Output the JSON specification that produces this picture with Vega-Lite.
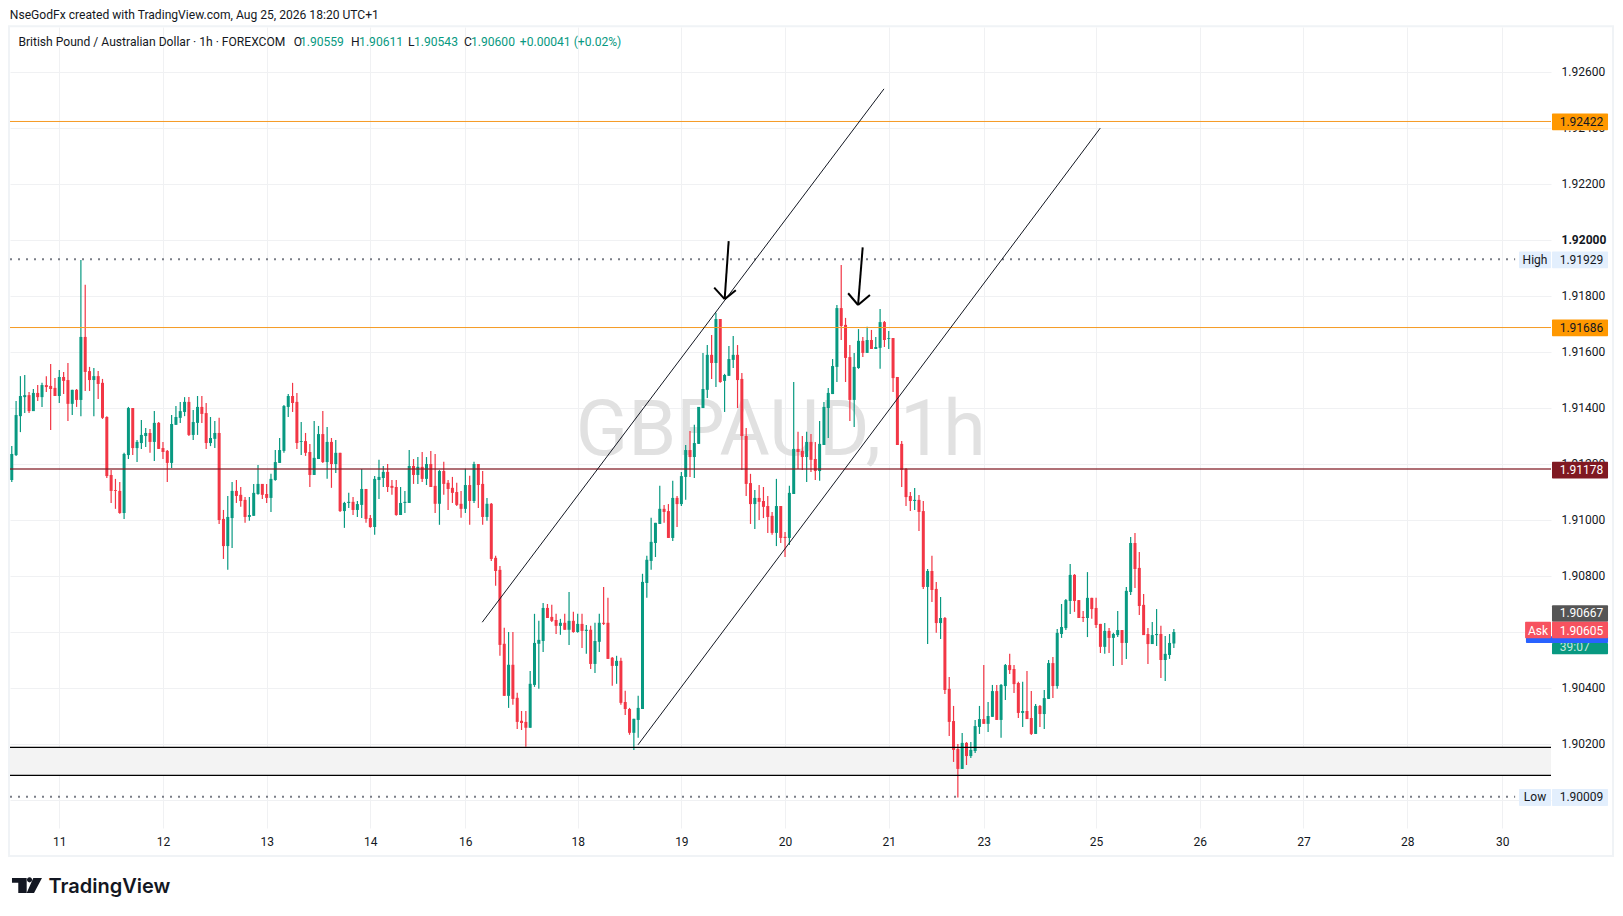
{
  "$schema": "https://vega.github.io/schema/vega-lite/v6.json",
  "width": 1541,
  "height": 801,
  "autosize": {"type": "none"},
  "padding": {"left": 10, "top": 27, "right": 72, "bottom": 88},
  "background": "#ffffff",
  "view": {"stroke": null},
  "config": {"text": {"font": "Roboto"}},
  "datasets": {
    "candles": [
      {"bar":0,"o":1.91143,"h":1.91264,"l":1.91136,"c":1.91236},
      {"bar":1,"o":1.91232,"h":1.91425,"l":1.91229,"c":1.91375},
      {"bar":2,"o":1.91371,"h":1.91514,"l":1.91314,"c":1.91443},
      {"bar":3,"o":1.91439,"h":1.91518,"l":1.91382,"c":1.91446},
      {"bar":4,"o":1.91446,"h":1.91457,"l":1.91382,"c":1.91389},
      {"bar":5,"o":1.91389,"h":1.91468,"l":1.91389,"c":1.91454},
      {"bar":6,"o":1.91454,"h":1.91482,"l":1.91425,"c":1.91439},
      {"bar":7,"o":1.91439,"h":1.9149,"l":1.91404,"c":1.91482},
      {"bar":8,"o":1.91482,"h":1.91514,"l":1.91457,"c":1.91475},
      {"bar":9,"o":1.91479,"h":1.91557,"l":1.91322,"c":1.91468},
      {"bar":10,"o":1.91472,"h":1.91507,"l":1.91443,"c":1.91443},
      {"bar":11,"o":1.91443,"h":1.91536,"l":1.91418,"c":1.91511},
      {"bar":12,"o":1.91511,"h":1.91529,"l":1.9145,"c":1.91497},
      {"bar":13,"o":1.915,"h":1.91561,"l":1.91354,"c":1.91415},
      {"bar":14,"o":1.91415,"h":1.91465,"l":1.91375,"c":1.91465},
      {"bar":15,"o":1.91465,"h":1.91468,"l":1.91404,"c":1.91429},
      {"bar":16,"o":1.91429,"h":1.91929,"l":1.91371,"c":1.91654},
      {"bar":17,"o":1.91654,"h":1.9184,"l":1.91461,"c":1.91529},
      {"bar":18,"o":1.91532,"h":1.91547,"l":1.91461,"c":1.915},
      {"bar":19,"o":1.915,"h":1.91543,"l":1.91371,"c":1.91514},
      {"bar":20,"o":1.91514,"h":1.91532,"l":1.91432,"c":1.91486},
      {"bar":21,"o":1.9149,"h":1.91504,"l":1.91361,"c":1.91365},
      {"bar":22,"o":1.91368,"h":1.91371,"l":1.9115,"c":1.91157},
      {"bar":23,"o":1.91161,"h":1.91179,"l":1.91061,"c":1.91104},
      {"bar":24,"o":1.91107,"h":1.91147,"l":1.9104,"c":1.91104},
      {"bar":25,"o":1.91104,"h":1.91136,"l":1.91022,"c":1.91025},
      {"bar":26,"o":1.91025,"h":1.9124,"l":1.91004,"c":1.91236},
      {"bar":27,"o":1.91232,"h":1.91404,"l":1.91218,"c":1.914},
      {"bar":28,"o":1.914,"h":1.914,"l":1.91232,"c":1.91257},
      {"bar":29,"o":1.91257,"h":1.91286,"l":1.91207,"c":1.91279},
      {"bar":30,"o":1.91275,"h":1.91357,"l":1.91254,"c":1.91304},
      {"bar":31,"o":1.913,"h":1.91329,"l":1.91261,"c":1.91311},
      {"bar":32,"o":1.91311,"h":1.91325,"l":1.9124,"c":1.91279},
      {"bar":33,"o":1.91279,"h":1.91389,"l":1.91211,"c":1.91347},
      {"bar":34,"o":1.91347,"h":1.9135,"l":1.91254,"c":1.91254},
      {"bar":35,"o":1.91257,"h":1.91279,"l":1.91218,"c":1.91243},
      {"bar":36,"o":1.91247,"h":1.9125,"l":1.91136,"c":1.91204},
      {"bar":37,"o":1.91204,"h":1.91375,"l":1.91186,"c":1.91343},
      {"bar":38,"o":1.9134,"h":1.91407,"l":1.9134,"c":1.91368},
      {"bar":39,"o":1.91365,"h":1.91422,"l":1.91347,"c":1.91389},
      {"bar":40,"o":1.91386,"h":1.91439,"l":1.91371,"c":1.91422},
      {"bar":41,"o":1.91422,"h":1.91439,"l":1.913,"c":1.91304},
      {"bar":42,"o":1.91304,"h":1.91393,"l":1.91286,"c":1.9135},
      {"bar":43,"o":1.91347,"h":1.91443,"l":1.91304,"c":1.91404},
      {"bar":44,"o":1.91404,"h":1.91443,"l":1.91347,"c":1.91379},
      {"bar":45,"o":1.91382,"h":1.91418,"l":1.91254,"c":1.91275},
      {"bar":46,"o":1.91275,"h":1.91368,"l":1.91264,"c":1.91293},
      {"bar":47,"o":1.9129,"h":1.91354,"l":1.91257,"c":1.91311},
      {"bar":48,"o":1.91311,"h":1.91365,"l":1.90986,"c":1.91},
      {"bar":49,"o":1.91004,"h":1.91036,"l":1.90861,"c":1.90907},
      {"bar":50,"o":1.90907,"h":1.91086,"l":1.90822,"c":1.91011},
      {"bar":51,"o":1.91007,"h":1.91136,"l":1.909,"c":1.91104},
      {"bar":52,"o":1.91104,"h":1.91143,"l":1.91061,"c":1.91086},
      {"bar":53,"o":1.9109,"h":1.91118,"l":1.91047,"c":1.91068},
      {"bar":54,"o":1.91072,"h":1.91082,"l":1.9099,"c":1.91011},
      {"bar":55,"o":1.91011,"h":1.91082,"l":1.90997,"c":1.91018},
      {"bar":56,"o":1.91015,"h":1.91129,"l":1.91015,"c":1.91097},
      {"bar":57,"o":1.91093,"h":1.91197,"l":1.9109,"c":1.91129},
      {"bar":58,"o":1.91129,"h":1.91129,"l":1.91075,"c":1.9109},
      {"bar":59,"o":1.91093,"h":1.91129,"l":1.91061,"c":1.91079},
      {"bar":60,"o":1.91079,"h":1.91165,"l":1.91029,"c":1.91147},
      {"bar":61,"o":1.91143,"h":1.9125,"l":1.9114,"c":1.91207},
      {"bar":62,"o":1.91204,"h":1.91293,"l":1.91204,"c":1.9125},
      {"bar":63,"o":1.91247,"h":1.91411,"l":1.9124,"c":1.91407},
      {"bar":64,"o":1.91404,"h":1.9145,"l":1.91368,"c":1.91443},
      {"bar":65,"o":1.91443,"h":1.9149,"l":1.91386,"c":1.91418},
      {"bar":66,"o":1.91422,"h":1.91454,"l":1.91254,"c":1.91275},
      {"bar":67,"o":1.91279,"h":1.9135,"l":1.91232,"c":1.91282},
      {"bar":68,"o":1.91282,"h":1.91311,"l":1.91229,"c":1.9124},
      {"bar":69,"o":1.91243,"h":1.91272,"l":1.91118,"c":1.91161},
      {"bar":70,"o":1.91161,"h":1.91354,"l":1.91161,"c":1.91222},
      {"bar":71,"o":1.91218,"h":1.91336,"l":1.91218,"c":1.91307},
      {"bar":72,"o":1.91307,"h":1.91389,"l":1.91204,"c":1.91207},
      {"bar":73,"o":1.91207,"h":1.91332,"l":1.91147,"c":1.91279},
      {"bar":74,"o":1.91279,"h":1.91293,"l":1.91115,"c":1.912},
      {"bar":75,"o":1.912,"h":1.91286,"l":1.91168,"c":1.9124},
      {"bar":76,"o":1.9124,"h":1.9124,"l":1.91029,"c":1.91032},
      {"bar":77,"o":1.91032,"h":1.91065,"l":1.90972,"c":1.91061},
      {"bar":78,"o":1.91061,"h":1.91097,"l":1.91043,"c":1.91065},
      {"bar":79,"o":1.91065,"h":1.91082,"l":1.91018,"c":1.91036},
      {"bar":80,"o":1.91036,"h":1.91068,"l":1.91011,"c":1.91057},
      {"bar":81,"o":1.91054,"h":1.91182,"l":1.91007,"c":1.91111},
      {"bar":82,"o":1.91111,"h":1.91111,"l":1.9099,"c":1.91004},
      {"bar":83,"o":1.91007,"h":1.91018,"l":1.90972,"c":1.90975},
      {"bar":84,"o":1.90975,"h":1.91157,"l":1.90947,"c":1.91147},
      {"bar":85,"o":1.91143,"h":1.91215,"l":1.91075,"c":1.91154},
      {"bar":86,"o":1.9115,"h":1.91193,"l":1.91118,"c":1.91172},
      {"bar":87,"o":1.91172,"h":1.912,"l":1.911,"c":1.91118},
      {"bar":88,"o":1.91122,"h":1.91143,"l":1.9109,"c":1.91115},
      {"bar":89,"o":1.91118,"h":1.91143,"l":1.91015,"c":1.91018},
      {"bar":90,"o":1.91018,"h":1.91118,"l":1.91018,"c":1.91061},
      {"bar":91,"o":1.91061,"h":1.91104,"l":1.91025,"c":1.91065},
      {"bar":92,"o":1.91061,"h":1.9125,"l":1.91061,"c":1.91193},
      {"bar":93,"o":1.91193,"h":1.91218,"l":1.91129,"c":1.91161},
      {"bar":94,"o":1.91161,"h":1.91225,"l":1.91129,"c":1.9119},
      {"bar":95,"o":1.9119,"h":1.91243,"l":1.91136,"c":1.91147},
      {"bar":96,"o":1.91147,"h":1.91225,"l":1.91125,"c":1.912},
      {"bar":97,"o":1.912,"h":1.91247,"l":1.91118,"c":1.91118},
      {"bar":98,"o":1.91122,"h":1.91236,"l":1.91025,"c":1.91058},
      {"bar":99,"o":1.91058,"h":1.91179,"l":1.90983,"c":1.91175},
      {"bar":100,"o":1.91175,"h":1.91208,"l":1.9109,"c":1.91129},
      {"bar":101,"o":1.91133,"h":1.91143,"l":1.91036,"c":1.91111},
      {"bar":102,"o":1.91115,"h":1.91154,"l":1.91061,"c":1.91097},
      {"bar":103,"o":1.911,"h":1.91133,"l":1.9105,"c":1.91054},
      {"bar":104,"o":1.91058,"h":1.91104,"l":1.91008,"c":1.9104},
      {"bar":105,"o":1.9104,"h":1.91183,"l":1.91025,"c":1.91125},
      {"bar":106,"o":1.91125,"h":1.91158,"l":1.90983,"c":1.91068},
      {"bar":107,"o":1.91068,"h":1.91208,"l":1.91061,"c":1.912},
      {"bar":108,"o":1.912,"h":1.912,"l":1.91043,"c":1.91125},
      {"bar":109,"o":1.91129,"h":1.91175,"l":1.90983,"c":1.91011},
      {"bar":110,"o":1.91011,"h":1.91079,"l":1.90997,"c":1.91058},
      {"bar":111,"o":1.91058,"h":1.91061,"l":1.90854,"c":1.90861},
      {"bar":112,"o":1.90865,"h":1.90872,"l":1.90765,"c":1.90818},
      {"bar":113,"o":1.90822,"h":1.90836,"l":1.90515,"c":1.90554},
      {"bar":114,"o":1.90558,"h":1.90615,"l":1.90372,"c":1.90372},
      {"bar":115,"o":1.90372,"h":1.906,"l":1.90329,"c":1.90483},
      {"bar":116,"o":1.90483,"h":1.906,"l":1.9034,"c":1.90361},
      {"bar":117,"o":1.90365,"h":1.90383,"l":1.90254,"c":1.90279},
      {"bar":118,"o":1.90283,"h":1.90318,"l":1.9025,"c":1.90275},
      {"bar":119,"o":1.90279,"h":1.90318,"l":1.9019,"c":1.90258},
      {"bar":120,"o":1.90258,"h":1.90461,"l":1.90258,"c":1.90415},
      {"bar":121,"o":1.90411,"h":1.90665,"l":1.90404,"c":1.90561},
      {"bar":122,"o":1.90558,"h":1.9064,"l":1.90397,"c":1.90572},
      {"bar":123,"o":1.90568,"h":1.90704,"l":1.90529,"c":1.90686},
      {"bar":124,"o":1.90686,"h":1.907,"l":1.9065,"c":1.9065},
      {"bar":125,"o":1.90654,"h":1.90697,"l":1.90636,"c":1.9064},
      {"bar":126,"o":1.90643,"h":1.90665,"l":1.90593,"c":1.90622},
      {"bar":127,"o":1.90622,"h":1.90647,"l":1.9059,"c":1.90633},
      {"bar":128,"o":1.90633,"h":1.90665,"l":1.90608,"c":1.90608},
      {"bar":129,"o":1.90608,"h":1.90743,"l":1.90554,"c":1.9064},
      {"bar":130,"o":1.9064,"h":1.90672,"l":1.90597,"c":1.906},
      {"bar":131,"o":1.906,"h":1.90665,"l":1.90597,"c":1.90629},
      {"bar":132,"o":1.90629,"h":1.90665,"l":1.90543,"c":1.90604},
      {"bar":133,"o":1.90604,"h":1.90625,"l":1.90522,"c":1.90608},
      {"bar":134,"o":1.90608,"h":1.90622,"l":1.90468,"c":1.90486},
      {"bar":135,"o":1.90486,"h":1.90633,"l":1.90454,"c":1.90568},
      {"bar":136,"o":1.90565,"h":1.90665,"l":1.90529,"c":1.90633},
      {"bar":137,"o":1.90633,"h":1.90761,"l":1.90625,"c":1.90629},
      {"bar":138,"o":1.90633,"h":1.90722,"l":1.90504,"c":1.90504},
      {"bar":139,"o":1.90508,"h":1.90511,"l":1.90408,"c":1.90479},
      {"bar":140,"o":1.90479,"h":1.90515,"l":1.90415,"c":1.90497},
      {"bar":141,"o":1.90497,"h":1.90508,"l":1.9034,"c":1.90347},
      {"bar":142,"o":1.9035,"h":1.9039,"l":1.90304,"c":1.90325},
      {"bar":143,"o":1.90325,"h":1.90329,"l":1.90233,"c":1.9024},
      {"bar":144,"o":1.9024,"h":1.9029,"l":1.90179,"c":1.9029},
      {"bar":145,"o":1.90286,"h":1.90372,"l":1.90222,"c":1.90329},
      {"bar":146,"o":1.90325,"h":1.90808,"l":1.90325,"c":1.90779},
      {"bar":147,"o":1.90775,"h":1.90872,"l":1.90722,"c":1.90858},
      {"bar":148,"o":1.90854,"h":1.91008,"l":1.90822,"c":1.90922},
      {"bar":149,"o":1.90918,"h":1.9099,"l":1.90868,"c":1.9099},
      {"bar":150,"o":1.90986,"h":1.91122,"l":1.90986,"c":1.9104},
      {"bar":151,"o":1.9104,"h":1.91054,"l":1.9099,"c":1.91029},
      {"bar":152,"o":1.91032,"h":1.91057,"l":1.90936,"c":1.90936},
      {"bar":153,"o":1.90936,"h":1.9114,"l":1.90925,"c":1.91079},
      {"bar":154,"o":1.91079,"h":1.91086,"l":1.90975,"c":1.91057},
      {"bar":155,"o":1.91057,"h":1.91172,"l":1.9105,"c":1.91157},
      {"bar":156,"o":1.91154,"h":1.91268,"l":1.91072,"c":1.9125},
      {"bar":157,"o":1.9125,"h":1.91318,"l":1.91154,"c":1.91225},
      {"bar":158,"o":1.91225,"h":1.9134,"l":1.9115,"c":1.91275},
      {"bar":159,"o":1.91272,"h":1.91404,"l":1.91272,"c":1.91404},
      {"bar":160,"o":1.914,"h":1.91597,"l":1.914,"c":1.91468},
      {"bar":161,"o":1.91465,"h":1.91625,"l":1.91436,"c":1.9159},
      {"bar":162,"o":1.9159,"h":1.91661,"l":1.91504,"c":1.91561},
      {"bar":163,"o":1.91561,"h":1.9174,"l":1.91475,"c":1.91718},
      {"bar":164,"o":1.91718,"h":1.91718,"l":1.9149,"c":1.91493},
      {"bar":165,"o":1.91497,"h":1.91522,"l":1.91386,"c":1.91518},
      {"bar":166,"o":1.91515,"h":1.91622,"l":1.91515,"c":1.91575},
      {"bar":167,"o":1.91572,"h":1.91657,"l":1.91543,"c":1.9159},
      {"bar":168,"o":1.9159,"h":1.91625,"l":1.914,"c":1.915},
      {"bar":169,"o":1.91504,"h":1.91525,"l":1.91179,"c":1.913},
      {"bar":170,"o":1.913,"h":1.91329,"l":1.91086,"c":1.91129},
      {"bar":171,"o":1.91132,"h":1.91165,"l":1.90986,"c":1.91057},
      {"bar":172,"o":1.91057,"h":1.91107,"l":1.90968,"c":1.91079},
      {"bar":173,"o":1.91079,"h":1.91125,"l":1.91,"c":1.91065},
      {"bar":174,"o":1.91068,"h":1.91118,"l":1.91007,"c":1.91047},
      {"bar":175,"o":1.9105,"h":1.91086,"l":1.90954,"c":1.91011},
      {"bar":176,"o":1.91015,"h":1.91029,"l":1.90947,"c":1.90954},
      {"bar":177,"o":1.90954,"h":1.91147,"l":1.90907,"c":1.9105},
      {"bar":178,"o":1.9105,"h":1.9105,"l":1.90918,"c":1.90936},
      {"bar":179,"o":1.9094,"h":1.90957,"l":1.90868,"c":1.90936},
      {"bar":180,"o":1.90936,"h":1.91122,"l":1.90911,"c":1.91097},
      {"bar":181,"o":1.91093,"h":1.91493,"l":1.91093,"c":1.91254},
      {"bar":182,"o":1.91254,"h":1.91315,"l":1.91182,"c":1.91243},
      {"bar":183,"o":1.91247,"h":1.913,"l":1.91179,"c":1.91225},
      {"bar":184,"o":1.91225,"h":1.91315,"l":1.91136,"c":1.91279},
      {"bar":185,"o":1.91279,"h":1.91307,"l":1.91172,"c":1.91215},
      {"bar":186,"o":1.91218,"h":1.91279,"l":1.91143,"c":1.91175},
      {"bar":187,"o":1.91175,"h":1.91354,"l":1.9114,"c":1.91272},
      {"bar":188,"o":1.91268,"h":1.91422,"l":1.91268,"c":1.91404},
      {"bar":189,"o":1.914,"h":1.91472,"l":1.91293,"c":1.91454},
      {"bar":190,"o":1.9145,"h":1.91575,"l":1.9145,"c":1.9155},
      {"bar":191,"o":1.91547,"h":1.91768,"l":1.91493,"c":1.91757},
      {"bar":192,"o":1.91757,"h":1.91911,"l":1.91643,"c":1.91693},
      {"bar":193,"o":1.91697,"h":1.91722,"l":1.91493,"c":1.91579},
      {"bar":194,"o":1.91582,"h":1.91625,"l":1.91354,"c":1.91429},
      {"bar":195,"o":1.91429,"h":1.91597,"l":1.91332,"c":1.91547},
      {"bar":196,"o":1.91543,"h":1.91682,"l":1.9154,"c":1.9164},
      {"bar":197,"o":1.9164,"h":1.91654,"l":1.91582,"c":1.91597},
      {"bar":198,"o":1.91597,"h":1.9169,"l":1.91597,"c":1.91643},
      {"bar":199,"o":1.91643,"h":1.91679,"l":1.91611,"c":1.91611},
      {"bar":200,"o":1.91611,"h":1.91654,"l":1.91611,"c":1.91618},
      {"bar":201,"o":1.91615,"h":1.91754,"l":1.9154,"c":1.91707},
      {"bar":202,"o":1.91707,"h":1.91711,"l":1.91618,"c":1.91643},
      {"bar":203,"o":1.91647,"h":1.91675,"l":1.91611,"c":1.9165},
      {"bar":204,"o":1.9165,"h":1.9165,"l":1.91457,"c":1.91507},
      {"bar":205,"o":1.91511,"h":1.91511,"l":1.91268,"c":1.91268},
      {"bar":206,"o":1.91272,"h":1.91282,"l":1.91118,"c":1.91179},
      {"bar":207,"o":1.91182,"h":1.91186,"l":1.9105,"c":1.91082},
      {"bar":208,"o":1.91086,"h":1.911,"l":1.91032,"c":1.91068},
      {"bar":209,"o":1.91068,"h":1.91114,"l":1.91036,"c":1.91072},
      {"bar":210,"o":1.91072,"h":1.91089,"l":1.90961,"c":1.91029},
      {"bar":211,"o":1.91032,"h":1.91068,"l":1.90754,"c":1.90761},
      {"bar":212,"o":1.90761,"h":1.90825,"l":1.90557,"c":1.90818},
      {"bar":213,"o":1.90818,"h":1.90872,"l":1.90707,"c":1.9075},
      {"bar":214,"o":1.90754,"h":1.90779,"l":1.90597,"c":1.90632},
      {"bar":215,"o":1.90632,"h":1.90725,"l":1.90575,"c":1.9065},
      {"bar":216,"o":1.9065,"h":1.90654,"l":1.90379,"c":1.90393},
      {"bar":217,"o":1.90397,"h":1.90439,"l":1.90229,"c":1.90279},
      {"bar":218,"o":1.90282,"h":1.90336,"l":1.90136,"c":1.90179},
      {"bar":219,"o":1.90182,"h":1.902,"l":1.90009,"c":1.90111},
      {"bar":220,"o":1.90111,"h":1.90239,"l":1.90111,"c":1.90204},
      {"bar":221,"o":1.90204,"h":1.90207,"l":1.90125,"c":1.90157},
      {"bar":222,"o":1.90157,"h":1.90207,"l":1.9015,"c":1.90179},
      {"bar":223,"o":1.90175,"h":1.90286,"l":1.90168,"c":1.90264},
      {"bar":224,"o":1.90261,"h":1.90336,"l":1.90236,"c":1.90289},
      {"bar":225,"o":1.90289,"h":1.90482,"l":1.90272,"c":1.90272},
      {"bar":226,"o":1.90272,"h":1.9035,"l":1.90243,"c":1.903},
      {"bar":227,"o":1.90297,"h":1.90411,"l":1.90297,"c":1.90389},
      {"bar":228,"o":1.90389,"h":1.90411,"l":1.90286,"c":1.90286},
      {"bar":229,"o":1.90286,"h":1.90414,"l":1.90222,"c":1.90411},
      {"bar":230,"o":1.90407,"h":1.90486,"l":1.90357,"c":1.90482},
      {"bar":231,"o":1.90482,"h":1.90522,"l":1.9045,"c":1.90464},
      {"bar":232,"o":1.90468,"h":1.90482,"l":1.90382,"c":1.90414},
      {"bar":233,"o":1.90418,"h":1.90422,"l":1.90293,"c":1.90311},
      {"bar":234,"o":1.90311,"h":1.90422,"l":1.90261,"c":1.90318},
      {"bar":235,"o":1.90318,"h":1.90461,"l":1.90289,"c":1.90289},
      {"bar":236,"o":1.90293,"h":1.90389,"l":1.90232,"c":1.90236},
      {"bar":237,"o":1.90236,"h":1.90343,"l":1.90236,"c":1.90336},
      {"bar":238,"o":1.90336,"h":1.90339,"l":1.90261,"c":1.90307},
      {"bar":239,"o":1.90307,"h":1.90393,"l":1.90254,"c":1.90364},
      {"bar":240,"o":1.90361,"h":1.905,"l":1.90361,"c":1.90489},
      {"bar":241,"o":1.90489,"h":1.90511,"l":1.90364,"c":1.90407},
      {"bar":242,"o":1.90407,"h":1.90611,"l":1.90397,"c":1.90597},
      {"bar":243,"o":1.90593,"h":1.907,"l":1.90579,"c":1.90618},
      {"bar":244,"o":1.90614,"h":1.90718,"l":1.90607,"c":1.90714},
      {"bar":245,"o":1.90711,"h":1.90843,"l":1.90664,"c":1.90804},
      {"bar":246,"o":1.90804,"h":1.90807,"l":1.90672,"c":1.90711},
      {"bar":247,"o":1.90714,"h":1.90714,"l":1.9065,"c":1.9065},
      {"bar":248,"o":1.90654,"h":1.90675,"l":1.90636,"c":1.9065},
      {"bar":249,"o":1.9065,"h":1.90814,"l":1.90582,"c":1.90722},
      {"bar":250,"o":1.90722,"h":1.90722,"l":1.90647,"c":1.90682},
      {"bar":251,"o":1.90686,"h":1.90722,"l":1.90614,"c":1.90625},
      {"bar":252,"o":1.90629,"h":1.90629,"l":1.90525,"c":1.90547},
      {"bar":253,"o":1.90547,"h":1.90632,"l":1.90522,"c":1.90604},
      {"bar":254,"o":1.90604,"h":1.90614,"l":1.90525,"c":1.90579},
      {"bar":255,"o":1.90579,"h":1.90597,"l":1.90479,"c":1.90593},
      {"bar":256,"o":1.90589,"h":1.90675,"l":1.90582,"c":1.90607},
      {"bar":257,"o":1.90607,"h":1.90607,"l":1.90482,"c":1.90561},
      {"bar":258,"o":1.90561,"h":1.90761,"l":1.90504,"c":1.90747},
      {"bar":259,"o":1.90743,"h":1.90939,"l":1.90732,"c":1.90918},
      {"bar":260,"o":1.90918,"h":1.90954,"l":1.90757,"c":1.90825},
      {"bar":261,"o":1.90829,"h":1.90886,"l":1.90661,"c":1.90693},
      {"bar":262,"o":1.90697,"h":1.90736,"l":1.90589,"c":1.90589},
      {"bar":263,"o":1.90593,"h":1.90614,"l":1.90486,"c":1.90557},
      {"bar":264,"o":1.90557,"h":1.90636,"l":1.90557,"c":1.90589},
      {"bar":265,"o":1.90589,"h":1.90682,"l":1.9055,"c":1.90593},
      {"bar":266,"o":1.90593,"h":1.90622,"l":1.90436,"c":1.905},
      {"bar":267,"o":1.905,"h":1.90586,"l":1.90425,"c":1.90522},
      {"bar":268,"o":1.90518,"h":1.90593,"l":1.90504,"c":1.90561},
      {"bar":269,"o":1.90559,"h":1.90611,"l":1.90543,"c":1.906}
    ]
  },
  "encoding": {
    "x": {
      "field": "bar",
      "type": "quantitative",
      "title": null,
      "scale": {"domain": [-0.41, 356.3], "nice": false, "zero": false},
      "axis": {
        "values": [11, 35, 59, 83, 105, 131, 155, 179, 203, 225, 251, 275, 299, 323, 345],
        "labelExpr": "{'11':'11','35':'12','59':'13','83':'14','105':'16','131':'18','155':'19','179':'20','203':'21','225':'23','251':'25','275':'26','299':'27','323':'28','345':'30'}[datum.value]",
        "domain": false,
        "ticks": false,
        "grid": true,
        "gridColor": "#f0f1f3",
        "labelFont": "Roboto",
        "labelFontSize": 12,
        "labelColor": "#131722",
        "labelPadding": 8,
        "labelFlush": false
      }
    },
    "y": {
      "field": "price",
      "type": "quantitative",
      "title": null,
      "scale": {"domain": [1.899, 1.92761], "nice": false, "zero": false},
      "axis": {
        "orient": "right",
        "values": [1.9, 1.902, 1.904, 1.906, 1.908, 1.91, 1.912, 1.914, 1.916, 1.918, 1.92, 1.922, 1.924, 1.926],
        "format": ".5f",
        "domain": false,
        "ticks": false,
        "grid": true,
        "gridColor": "#f0f1f3",
        "labelFont": "Roboto",
        "labelFontSize": 12,
        "labelColor": "#131722",
        "labelPadding": 10,
        "labelOffset": -1,
        "labelFontWeight": {"condition": {"test": "datum.value == 1.92", "value": "bold"}, "value": "normal"}
      }
    }
  },
  "layer": [
    {
      "data": {"values": [{"bar": -0.65, "bar2": 370.65, "price": 1.92764, "price2": 1.898}]},
      "mark": {"type": "rect", "fill": "transparent", "stroke": "#f0f3f6", "strokeWidth": 2},
      "encoding": {"x2": {"field": "bar2"}, "y2": {"field": "price2"}}
    },
    {
      "data": {"values": [{"bar": -0.41, "bar2": 356.3, "price": 1.90188, "price2": 1.90088}]},
      "mark": {"type": "rect", "fill": "#f3f3f3"},
      "encoding": {"x2": {"field": "bar2"}, "y2": {"field": "price2"}}
    },
    {
      "data": {"values": [{"bar": 178, "price": 1.91314, "label": "GBPAUD, 1h"}]},
      "mark": {"type": "text", "font": "Roboto", "fontSize": 77, "color": "#e1e1e1", "align": "center", "baseline": "middle"},
      "encoding": {"text": {"field": "label"}}
    },
    {
      "data": {"name": "candles"},
      "mark": {"type": "rule", "strokeWidth": 1.2},
      "encoding": {
        "y": {"field": "h", "type": "quantitative", "title": null, "scale": {"domain": [1.899, 1.92761], "nice": false, "zero": false}},
        "y2": {"field": "l"},
        "color": {"condition": {"test": "datum.c < datum.o", "value": "#f23645"}, "value": "#089981"}
      }
    },
    {
      "data": {"name": "candles"},
      "mark": {"type": "rule", "strokeWidth": 3},
      "encoding": {
        "y": {"field": "o", "type": "quantitative", "title": null, "scale": {"domain": [1.899, 1.92761], "nice": false, "zero": false}},
        "y2": {"field": "c"},
        "color": {"condition": {"test": "datum.c < datum.o", "value": "#f23645"}, "value": "#089981"}
      }
    },
    {
      "data": {"values": [{"bar": -0.41, "bar2": 356.3, "price": 1.90188}, {"bar": -0.41, "bar2": 356.3, "price": 1.90088}]},
      "mark": {"type": "rule", "color": "#000000", "strokeWidth": 1.3},
      "encoding": {"x2": {"field": "bar2"}}
    },
    {
      "data": {"values": [{"bar": -0.41, "bar2": 356.3, "price": 1.92422}, {"bar": -0.41, "bar2": 356.3, "price": 1.91686}]},
      "mark": {"type": "rule", "color": "#f59a23", "strokeWidth": 1, "yOffset": -0.43},
      "encoding": {"x2": {"field": "bar2"}}
    },
    {
      "data": {"values": [{"bar": -0.41, "bar2": 356.3, "price": 1.91178}]},
      "mark": {"type": "rule", "color": "#801922", "opacity": 0.62, "strokeWidth": 2, "yOffset": -1.2},
      "encoding": {"x2": {"field": "bar2"}}
    },
    {
      "data": {"values": [{"bar": -0.41, "bar2": 348, "price": 1.91929}, {"bar": -0.41, "bar2": 348, "price": 1.90009}]},
      "mark": {"type": "rule", "color": "#7a7d86", "strokeWidth": 2, "strokeDash": [2, 6], "yOffset": -0.7},
      "encoding": {"x2": {"field": "bar2"}}
    },
    {
      "data": {"values": [
        {"bar": 108.9, "price": 1.90635, "bar2": 201.9, "price2": 1.9254},
        {"bar": 144.95, "price": 1.90197, "bar2": 251.97, "price2": 1.924}
      ]},
      "mark": {"type": "rule", "color": "#131722", "strokeWidth": 1},
      "encoding": {"x2": {"field": "bar2"}, "y2": {"field": "price2"}}
    },
    {
      "data": {"values": [
        {"bar": 165.95, "price": 1.91996, "bar2": 165.02, "price2": 1.91789},
        {"bar": 162.6, "price": 1.9183, "bar2": 165.02, "price2": 1.91789},
        {"bar": 167.6, "price": 1.91821, "bar2": 165.02, "price2": 1.91789},
        {"bar": 196.97, "price": 1.91974, "bar2": 195.9, "price2": 1.91768},
        {"bar": 193.6, "price": 1.9181, "bar2": 195.9, "price2": 1.91768},
        {"bar": 198.65, "price": 1.91804, "bar2": 195.9, "price2": 1.91768}
      ]},
      "mark": {"type": "rule", "color": "#000000", "strokeWidth": 2},
      "encoding": {"x2": {"field": "bar2"}, "y2": {"field": "price2"}}
    },
    {
      "data": {"values": [{"bar": 356.53, "bar2": 369.5, "price": 1.90561, "price2": 1.90521}]},
      "mark": {"type": "rect", "fill": "#089981", "cornerRadius": 1},
      "encoding": {"x2": {"field": "bar2"}, "y2": {"field": "price2"}}
    },
    {
      "data": {"values": [{"bar": 361.8, "price": 1.90548, "label": "39:07"}]},
      "mark": {"type": "text", "fontSize": 12, "color": "#c4e8e0", "align": "center", "baseline": "middle"},
      "encoding": {"text": {"field": "label"}}
    },
    {
      "data": {"values": [
        {"kind": "level", "bar": 356.53, "bar2": 369.5, "price": 1.92452, "price2": 1.92392},
        {"kind": "info", "bar": 356.53, "bar2": 369.5, "price": 1.91959, "price2": 1.91899},
        {"kind": "info", "bar": 348.9, "bar2": 356.3, "price": 1.91959, "price2": 1.91899},
        {"kind": "level", "bar": 356.53, "bar2": 369.5, "price": 1.91716, "price2": 1.91656},
        {"kind": "line", "bar": 356.53, "bar2": 369.5, "price": 1.91208, "price2": 1.91148},
        {"kind": "prev", "bar": 356.53, "bar2": 369.5, "price": 1.90696, "price2": 1.90637},
        {"kind": "strip", "bar": 350.5, "bar2": 369.5, "price": 1.90585, "price2": 1.90561},
        {"kind": "ask", "bar": 356.53, "bar2": 369.5, "price": 1.90637, "price2": 1.90578},
        {"kind": "ask", "bar": 350.3, "bar2": 356.3, "price": 1.90637, "price2": 1.90578},
        {"kind": "info", "bar": 356.53, "bar2": 369.5, "price": 1.90039, "price2": 1.89979},
        {"kind": "info", "bar": 348.9, "bar2": 356.3, "price": 1.90039, "price2": 1.89979}
      ]},
      "mark": {"type": "rect", "cornerRadius": 1},
      "encoding": {
        "x2": {"field": "bar2"},
        "y2": {"field": "price2"},
        "color": {
          "field": "kind",
          "type": "nominal",
          "legend": null,
          "scale": {
            "domain": ["level", "info", "line", "prev", "strip", "ask"],
            "range": ["#ff9800", "#e3effd", "#801922", "#555555", "#2962ff", "#f7525f"]
          }
        }
      }
    },
    {
      "data": {"values": [
        {"bar": 363.36, "price": 1.92422, "label": "1.92422", "kind": "dark"},
        {"bar": 363.36, "price": 1.91929, "label": "1.91929", "kind": "dark"},
        {"bar": 352.6, "price": 1.91929, "label": "High", "kind": "dark"},
        {"bar": 363.36, "price": 1.91686, "label": "1.91686", "kind": "dark"},
        {"bar": 363.36, "price": 1.91178, "label": "1.91178", "kind": "light"},
        {"bar": 363.36, "price": 1.90667, "label": "1.90667", "kind": "light"},
        {"bar": 363.36, "price": 1.90605, "label": "1.90605", "kind": "light"},
        {"bar": 353.3, "price": 1.90605, "label": "Ask", "kind": "light"},
        {"bar": 363.36, "price": 1.90009, "label": "1.90009", "kind": "dark"},
        {"bar": 352.6, "price": 1.90009, "label": "Low", "kind": "dark"}
      ]},
      "mark": {"type": "text", "fontSize": 12, "align": "center", "baseline": "middle"},
      "encoding": {
        "text": {"field": "label"},
        "color": {"condition": {"test": "datum.kind === 'light'", "value": "#ffffff"}, "value": "#131722"}
      }
    },
    {
      "data": {"values": [
        {"bar": -0.45, "price": 1.92804, "label": "NseGodFx created with TradingView.com, Aug 25, 2026 18:20 UTC+1"},
        {"bar": 1.53, "price": 1.92707, "label": "British Pound / Australian Dollar · 1h · FOREXCOM"},
        {"bar": 65.3, "price": 1.92707, "label": "O"},
        {"bar": 78.5, "price": 1.92707, "label": "H"},
        {"bar": 91.7, "price": 1.92707, "label": "L"},
        {"bar": 104.7, "price": 1.92707, "label": "C"}
      ]},
      "mark": {"type": "text", "fontSize": 12.1, "color": "#131722", "align": "left", "baseline": "middle"},
      "encoding": {"text": {"field": "label"}}
    },
    {
      "data": {"values": [
        {"bar": 66.7, "price": 1.92707, "label": "1.90559"},
        {"bar": 80.4, "price": 1.92707, "label": "1.90611"},
        {"bar": 93.1, "price": 1.92707, "label": "1.90543"},
        {"bar": 106.3, "price": 1.92707, "label": "1.90600"},
        {"bar": 117.6, "price": 1.92707, "label": "+0.00041 (+0.02%)"}
      ]},
      "mark": {"type": "text", "fontSize": 12.1, "color": "#089981", "align": "left", "baseline": "middle"},
      "encoding": {"text": {"field": "label"}}
    },
    {
      "data": {"values": [{"bar": 3.52, "price": 1.89695}]},
      "mark": {
        "type": "point",
        "filled": true,
        "size": 900,
        "opacity": 1,
        "color": "#131722",
        "shape": "M-1,-0.5H-0.02V0.5H-0.58V-0.17H-1ZM0,-0.37a0.17,0.17 0 1,0 0.34,0a0.17,0.17 0 1,0 -0.34,0ZM0.42,-0.5H1L0.47,0.5H-0.02Z"
      }
    },
    {
      "data": {"values": [{"bar": 8.5, "price": 1.8969, "label": "TradingView"}]},
      "mark": {"type": "text", "font": "Inter", "fontSize": 20, "fontWeight": 600, "color": "#131722", "align": "left", "baseline": "middle"},
      "encoding": {"text": {"field": "label"}}
    }
  ]
}
